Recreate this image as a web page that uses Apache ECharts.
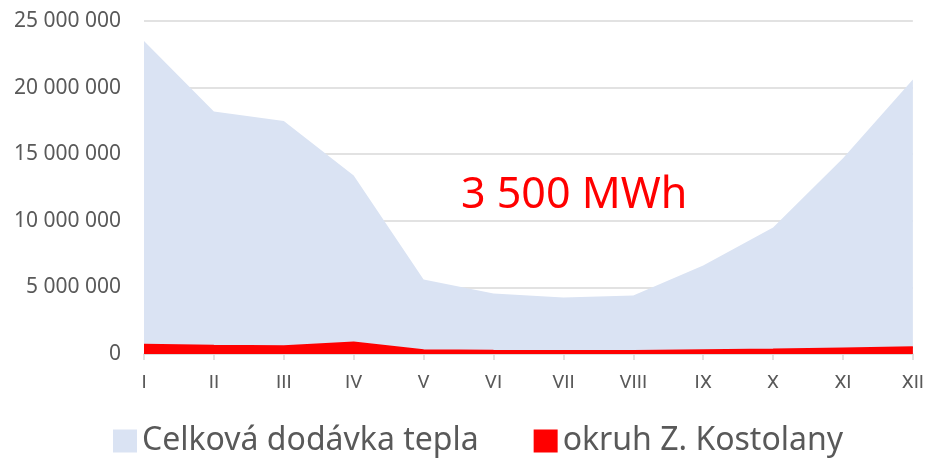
<!DOCTYPE html>
<html>
<head>
<meta charset="utf-8">
<script src="https://cdn.jsdelivr.net/npm/echarts@6/dist/echarts.min.js"></script>
<style>
  html, body { margin: 0; padding: 0; background: #fff; }
  #chart { width: 927px; height: 464px; }
</style>
</head>
<body>
<div id="chart"></div>
<script>
const months = ['I', 'II', 'III', 'IV', 'V', 'VI', 'VII', 'VIII', 'IX', 'X', 'XI', 'XII'];
const celkova = [23500000, 18200000, 17500000, 13400000, 5600000, 4550000, 4250000, 4400000, 6650000, 9500000, 14700000, 20600000];
const kostolany = [700000, 620000, 590000, 860000, 290000, 250000, 220000, 230000, 280000, 330000, 420000, 510000];
const note = '3 500 MWh';

const fmtNum = (v) => String(v).replace(/\B(?=(\d{3})+(?!\d))/g, ' ');
const font = '"Noto Sans", "Open Sans", sans-serif';

const chart = echarts.init(document.getElementById('chart'));
chart.setOption({
  animation: false,
  textStyle: { fontFamily: font },
  grid: { left: 144, right: 13, top: 21, bottom: 110 },
  legend: {
    bottom: 2, left: 108, itemGap: 55, itemWidth: 24, itemHeight: 23,
    icon: 'rect',
    textStyle: { fontSize: 32, color: '#595959', fontFamily: font },
    data: ['Celková dodávka tepla', 'okruh Z. Kostolany']
  },
  xAxis: {
    type: 'category', data: months, boundaryGap: false,
    axisLine: { lineStyle: { color: '#d9d9d9', width: 1.5 } },
    axisTick: { show: true, alignWithLabel: true, length: 6, lineStyle: { color: '#d9d9d9', width: 1.5 } },
    axisLabel: { color: '#595959', fontSize: 19, margin: 20, fontFamily: 'Roboto, sans-serif' }
  },
  yAxis: {
    type: 'value', min: 0, max: 25000000, interval: 5000000,
    axisLine: { show: false }, axisTick: { show: false },
    axisLabel: { color: '#595959', fontSize: 21, margin: 23, formatter: fmtNum, fontFamily: font },
    splitLine: { lineStyle: { color: '#d9d9d9', width: 1.5 } }
  },
  series: [
    { name: 'Celková dodávka tepla', type: 'line', data: celkova, symbol: 'none',
      color: '#dae3f3', lineStyle: { width: 0 }, areaStyle: { color: '#dae3f3', opacity: 1 } },
    { name: 'okruh Z. Kostolany', type: 'line', data: kostolany, symbol: 'none',
      color: '#ff0000', lineStyle: { width: 2, color: '#ff0000' }, areaStyle: { color: '#ff0000', opacity: 1 } }
  ],
  graphic: [{
    type: 'text', left: 461, top: 174,
    style: { text: note, fill: '#ff0000', fontSize: 43, fontFamily: font }
  }]
});
</script>
</body>
</html>
